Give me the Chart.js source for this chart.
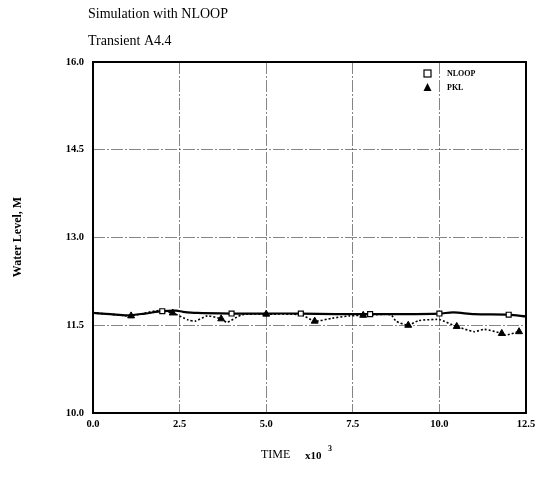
<!DOCTYPE html>
<html>
<head>
<meta charset="utf-8">
<script src="https://cdn.jsdelivr.net/npm/chart.js@4/dist/chart.umd.min.js"></script>
<style>
  html, body { margin: 0; padding: 0; background: #fff; }
  canvas { display: block; }
</style>
</head>
<body>
<canvas id="chart" width="537" height="495"></canvas>
<script>
// Water level, NLOOP simulation vs PKL measurement (transient A4.4)

const xTicks = [0.0, 2.5, 5.0, 7.5, 10.0, 12.5];
const yTicks = [10.0, 11.5, 13.0, 14.5, 16.0];

const nloopTime  = [0, 0.5, 1.0, 1.5, 2.0, 2.4, 2.6, 3.0, 4.0, 5.0, 6.0, 7.0, 8.0, 9.0, 10.0, 10.4, 11.0, 12.0, 12.5];
const nloopLevel = [11.71, 11.69, 11.67, 11.70, 11.74, 11.75, 11.73, 11.71, 11.70, 11.70, 11.70, 11.69, 11.69, 11.69, 11.70, 11.72, 11.69, 11.68, 11.65];
const nloopMarks = [2.0, 4.0, 6.0, 8.0, 10.0, 12.0];

const pklTime  = [0, 0.5, 1.1, 1.5, 1.9, 2.3, 2.75, 2.95, 3.3, 3.7, 3.87, 4.3, 5.0, 6.0, 6.4, 6.9, 7.4, 7.8, 8.1, 8.6, 8.75, 9.1, 9.4, 9.9, 10.0, 10.5, 11.0, 11.3, 11.8, 11.9, 12.3];
const pklLevel = [11.71, 11.69, 11.66, 11.71, 11.75, 11.71, 11.59, 11.57, 11.66, 11.61, 11.55, 11.68, 11.69, 11.68, 11.57, 11.62, 11.66, 11.67, 11.68, 11.68, 11.57, 11.50, 11.58, 11.60, 11.60, 11.48, 11.39, 11.43, 11.36, 11.33, 11.39];
const pklMarks = [1.1, 2.3, 3.7, 5.0, 6.4, 7.8, 9.1, 10.5, 11.8, 12.3];

const serif = "'Liberation Serif', 'DejaVu Serif', serif";

const toPoints = (xs, ys) => xs.map((x, i) => ({ x, y: ys[i] }));

// frame, titles, axis captions and legend drawn on top of the chart
const decorations = {
    id: 'decorations',
    afterDraw(chart) {
        const { ctx, chartArea: a } = chart;
        ctx.save();
        ctx.strokeStyle = '#000';
        ctx.lineWidth = 2;
        ctx.strokeRect(a.left, a.top, a.right - a.left, a.bottom - a.top);

        ctx.fillStyle = '#000';
        ctx.textBaseline = 'middle';
        ctx.textAlign = 'left';
        ctx.font = `14px ${serif}`;
        ctx.fillText('Simulation with NLOOP', 88, 14);
        ctx.fillText('Transient A4.4', 88, 41);

        ctx.font = `12px ${serif}`;
        ctx.fillText('TIME', 261, 455);
        ctx.font = `bold 11px ${serif}`;
        ctx.fillText('x10', 305, 456);
        ctx.font = `bold 8px ${serif}`;
        ctx.fillText('3', 328, 449);

        ctx.save();
        ctx.translate(18, 237);
        ctx.rotate(-Math.PI / 2);
        ctx.textAlign = 'center';
        ctx.font = `bold 12px ${serif}`;
        ctx.fillText('Water Level, M', 0, 0);
        ctx.restore();

        // legend
        ctx.font = `bold 8px ${serif}`;
        ctx.fillText('NLOOP', 447, 74);
        ctx.fillText('PKL', 447, 88);
        ctx.lineWidth = 1.2;
        ctx.fillStyle = '#fff';
        ctx.fillRect(424, 70, 7, 7);
        ctx.strokeRect(424, 70, 7, 7);
        ctx.fillStyle = '#000';
        ctx.beginPath();
        ctx.moveTo(427.5, 83);
        ctx.lineTo(431.5, 91);
        ctx.lineTo(423.5, 91);
        ctx.closePath();
        ctx.fill();
        ctx.restore();
    }
};

new Chart(document.getElementById('chart'), {
    type: 'line',
    data: {
        datasets: [
            {
                label: 'NLOOP',
                data: toPoints(nloopTime, nloopLevel),
                borderColor: '#000',
                borderWidth: 2.2,
                tension: 0.3,
                fill: false,
                pointStyle: 'rect',
                pointRadius: (c) => nloopMarks.includes(c.raw?.x) ? 3.5 : 0,
                pointBackgroundColor: '#fff',
                pointBorderColor: '#000',
                pointBorderWidth: 1.2,
            },
            {
                label: 'PKL',
                data: toPoints(pklTime, pklLevel),
                borderColor: '#000',
                borderWidth: 1.6,
                borderDash: [2, 2],
                tension: 0.2,
                fill: false,
                pointStyle: 'triangle',
                pointRadius: (c) => pklMarks.includes(c.raw?.x) ? 4 : 0,
                pointBackgroundColor: '#000',
                pointBorderColor: '#000',
                pointBorderWidth: 1,
            },
        ],
    },
    options: {
        responsive: false,
        animation: false,
        layout: { padding: { left: 0, top: 62, right: 11, bottom: 62 } },
        plugins: {
            legend: { display: false },
            tooltip: { enabled: false },
        },
        scales: {
            x: {
                type: 'linear',
                min: 0,
                max: 12.5,
                afterBuildTicks: (s) => { s.ticks = xTicks.map(v => ({ value: v })); },
                afterFit: (s) => {
                    s.height = 20;
                    // keep the end labels from shrinking the plot area
                    s.paddingLeft = 0;
                    s.paddingRight = 0;
                },
                ticks: {
                    color: '#000',
                    padding: 5,
                    maxRotation: 0,
                    font: { family: serif, size: 10.5, weight: 'bold' },
                    callback: (v) => v.toFixed(1),
                },
                grid: { color: '#333', lineWidth: 0.6, drawTicks: false },
                border: { display: false, dash: [12, 2, 2, 2] },
            },
            y: {
                min: 10,
                max: 16,
                afterBuildTicks: (s) => { s.ticks = yTicks.map(v => ({ value: v })); },
                afterFit: (s) => {
                    s.width = 93;
                    s.paddingTop = 0;
                    s.paddingBottom = 0;
                },
                ticks: {
                    color: '#000',
                    padding: 9,
                    font: { family: serif, size: 10.5, weight: 'bold' },
                    callback: (v) => v.toFixed(1),
                },
                grid: { color: '#333', lineWidth: 0.6, drawTicks: false },
                border: { display: false, dash: [12, 2, 2, 2] },
            },
        },
    },
    plugins: [decorations],
});
</script>
</body>
</html>
